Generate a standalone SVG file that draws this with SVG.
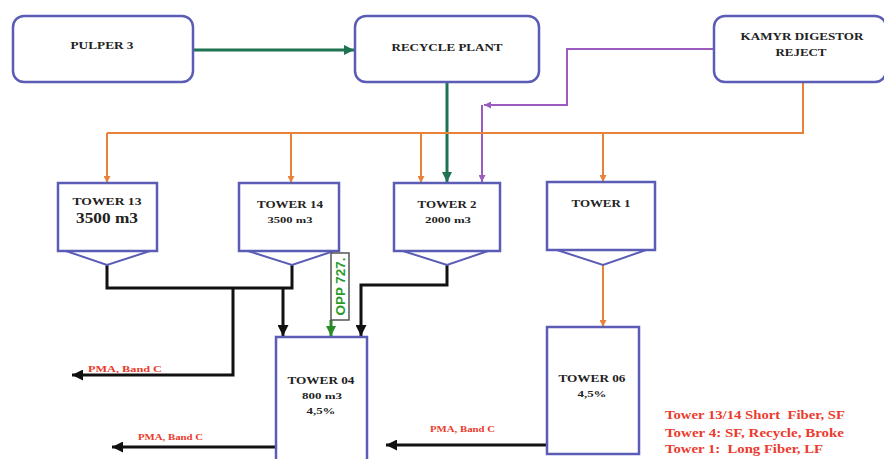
<svg xmlns="http://www.w3.org/2000/svg" width="884" height="459" viewBox="0 0 884 459">
<defs>
<style>
.box{fill:#fff;stroke:#5a5cb6;stroke-width:2.5}
.hop{fill:none;stroke:#5a5cb6;stroke-width:2}
.lbl{font-family:"Liberation Serif","Times New Roman",serif;font-weight:bold;fill:#222;text-anchor:middle}
.red{font-family:"Liberation Serif","Times New Roman",serif;font-weight:bold;fill:#ea3b2e}
.or{fill:none;stroke:#e8823a;stroke-width:2}
.pu{fill:none;stroke:#9b5cc0;stroke-width:2}
.gr{fill:none;stroke:#1d7352;stroke-width:3}
.bk{fill:none;stroke:#111;stroke-width:3}
</style>
<marker id="aO" viewBox="0 0 10 10" refX="10" refY="5" markerUnits="userSpaceOnUse" markerWidth="7" markerHeight="7" orient="auto"><path d="M0,0L10,5L0,10z" fill="#e8823a"/></marker>
<marker id="aP" viewBox="0 0 10 10" refX="10" refY="5" markerUnits="userSpaceOnUse" markerWidth="7" markerHeight="7" orient="auto"><path d="M0,0L10,5L0,10z" fill="#9b5cc0"/></marker>
<marker id="aG" viewBox="0 0 10 10" refX="10" refY="5" markerUnits="userSpaceOnUse" markerWidth="10" markerHeight="10" orient="auto"><path d="M0,0L10,5L0,10z" fill="#1d7352"/></marker>
<marker id="aG2" viewBox="0 0 10 10" refX="10" refY="5" markerUnits="userSpaceOnUse" markerWidth="10" markerHeight="10" orient="auto"><path d="M0,0L10,5L0,10z" fill="#2a8a2a"/></marker>
<marker id="aK" viewBox="0 0 10 10" refX="10" refY="5" markerUnits="userSpaceOnUse" markerWidth="11" markerHeight="11" orient="auto"><path d="M0,0L10,5L0,10z" fill="#111"/></marker>
</defs>
<rect width="884" height="459" fill="#fff"/>

<g id="connectors">
<path class="gr" d="M193,50H354" marker-end="url(#aG)"/>
<path class="gr" d="M447,82V182" marker-end="url(#aG)"/>
<path class="pu" d="M714,49H567V105H484" marker-end="url(#aP)"/>
<path class="pu" d="M482,105V182" marker-end="url(#aP)"/>
<path class="or" d="M803,82V133H107"/>
<path class="or" d="M107,133V183" marker-end="url(#aO)"/>
<path class="or" d="M291,133V183" marker-end="url(#aO)"/>
<path class="or" d="M421,133V183" marker-end="url(#aO)"/>
<path class="or" d="M603,133V182" marker-end="url(#aO)"/>
<path class="or" d="M603,265V327" marker-end="url(#aO)"/>
<path class="bk" d="M107,265V288H292V265"/>
<path class="bk" d="M233,288V375H72" marker-end="url(#aK)"/>
<path class="bk" d="M283,288V336" marker-end="url(#aK)"/>
<path class="bk" d="M447,265V285H361V336" marker-end="url(#aK)"/>
<path class="bk" d="M276,447H112" marker-end="url(#aK)"/>
<path class="bk" d="M547,445H386" marker-end="url(#aK)"/>
<path fill="none" stroke="#2a8a2a" stroke-width="3" d="M331,320V336" marker-end="url(#aG2)"/>
</g>

<g id="pulper3">
<rect class="box" x="13" y="16" width="180" height="66" rx="11"/>
<text class="lbl" x="102" y="49" font-size="11" textLength="63" lengthAdjust="spacingAndGlyphs">PULPER 3</text>
</g>
<g id="recycle-plant">
<rect class="box" x="355" y="16" width="184" height="66" rx="11"/>
<text class="lbl" x="447" y="51" font-size="11" textLength="111" lengthAdjust="spacingAndGlyphs">RECYCLE PLANT</text>
</g>
<g id="kamyr">
<rect class="box" x="714" y="16" width="172" height="66" rx="11"/>
<text class="lbl" x="802" y="40" font-size="11" textLength="123" lengthAdjust="spacingAndGlyphs">KAMYR DIGESTOR</text>
<text class="lbl" x="801" y="56" font-size="11" textLength="51" lengthAdjust="spacingAndGlyphs">REJECT</text>
</g>

<g id="tower13">
<rect class="box" x="58" y="183" width="99" height="68"/>
<path class="hop" d="M66,251L107,265L150,251"/>
<text class="lbl" x="107" y="205" font-size="10" textLength="69" lengthAdjust="spacingAndGlyphs">TOWER 13</text>
<text class="lbl" x="107" y="223" font-size="15" textLength="62" lengthAdjust="spacingAndGlyphs">3500 m3</text>
</g>
<g id="tower14">
<rect class="box" x="239" y="183" width="100" height="68"/>
<path class="hop" d="M248,251L292,265L334,251"/>
<text class="lbl" x="290" y="208" font-size="10" textLength="66" lengthAdjust="spacingAndGlyphs">TOWER 14</text>
<text class="lbl" x="290" y="223" font-size="9" textLength="45" lengthAdjust="spacingAndGlyphs">3500 m3</text>
</g>
<g id="tower2">
<rect class="box" x="394" y="183" width="106" height="68"/>
<path class="hop" d="M403,251L447,265L488,251"/>
<text class="lbl" x="447" y="208" font-size="10" textLength="59" lengthAdjust="spacingAndGlyphs">TOWER 2</text>
<text class="lbl" x="448" y="223" font-size="9" textLength="46" lengthAdjust="spacingAndGlyphs">2000 m3</text>
</g>
<g id="tower1">
<rect class="box" x="547" y="182" width="108" height="68"/>
<path class="hop" d="M557,250L603,265L646,250"/>
<text class="lbl" x="601" y="207" font-size="10" textLength="59" lengthAdjust="spacingAndGlyphs">TOWER 1</text>
</g>
<g id="tower04">
<rect class="box" x="276" y="337" width="91" height="135"/>
<text class="lbl" x="321" y="384" font-size="10" textLength="67" lengthAdjust="spacingAndGlyphs">TOWER 04</text>
<text class="lbl" x="322" y="399" font-size="9" textLength="40" lengthAdjust="spacingAndGlyphs">800 m3</text>
<text class="lbl" x="321" y="414" font-size="9" textLength="29" lengthAdjust="spacingAndGlyphs">4,5%</text>
</g>
<g id="tower06">
<rect class="box" x="547" y="327" width="92" height="127"/>
<text class="lbl" x="592" y="382" font-size="10" textLength="67" lengthAdjust="spacingAndGlyphs">TOWER 06</text>
<text class="lbl" x="592" y="397" font-size="9" textLength="29" lengthAdjust="spacingAndGlyphs">4,5%</text>
</g>

<g id="opp-label">
<rect x="331" y="253" width="18" height="67" fill="#fff" stroke="#555" stroke-width="1.5"/>
<text transform="translate(344.5,286.5) rotate(-90)" x="0" y="0" font-family="Liberation Sans, Arial, sans-serif" font-weight="bold" font-size="12" fill="#2a9a2a" text-anchor="middle" textLength="58" lengthAdjust="spacingAndGlyphs">OPP 727.</text>
</g>

<g id="labels">
<text class="red" x="88" y="372" font-size="8" textLength="74" lengthAdjust="spacingAndGlyphs">PMA, Band C</text>
<text class="red" x="138" y="440" font-size="8" textLength="65" lengthAdjust="spacingAndGlyphs">PMA, Band C</text>
<text class="red" x="430" y="432" font-size="8" textLength="65" lengthAdjust="spacingAndGlyphs">PMA, Band C</text>
<text class="red" x="665" y="419" font-size="13" textLength="180" lengthAdjust="spacingAndGlyphs">Tower 13/14 Short&#160; Fiber, SF</text>
<text class="red" x="665" y="437" font-size="13" textLength="179" lengthAdjust="spacingAndGlyphs">Tower 4: SF, Recycle, Broke</text>
<text class="red" x="665" y="453" font-size="13" textLength="158" lengthAdjust="spacingAndGlyphs">Tower 1:&#160; Long Fiber, LF</text>
</g>
</svg>
